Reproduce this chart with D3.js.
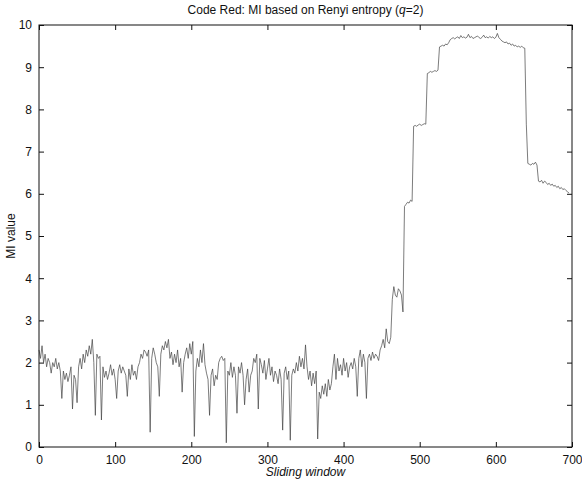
<!DOCTYPE html>
<html>
<head>
<meta charset="utf-8">
<script src="https://cdn.jsdelivr.net/npm/d3@7"></script>
<style>
    body { margin: 0; background: #fff; }
    text { font-family: "Liberation Sans", Arial, sans-serif; fill: #111; }
</style>
</head>
<body>
<div id="chart"></div>
<script>
// ===================== data =====================
const windowStep = 2;   // one value every 2 sliding windows
// each row = 10 values, row k starts at window 20*k
const miValues = [
    2.3, 2.1, 2.4, 2.0, 2.2, 1.9, 2.1, 2.0, 1.75, 2.0,      // 0
    1.9, 2.1, 1.85, 2.0, 1.8, 1.15, 1.8, 1.6, 1.75, 1.55,   // 20
    1.7, 1.9, 0.9, 1.7, 1.6, 1.05, 1.9, 2.1, 1.85, 2.2,     // 40
    2.0, 2.3, 2.15, 2.4, 2.2, 2.55, 2.0, 0.75, 2.2, 2.1,    // 60
    2.15, 0.64, 1.9, 1.65, 1.8, 1.6, 1.75, 1.95, 1.7, 1.85, // 80
    1.6, 1.15, 1.8, 1.95, 1.75, 1.9, 1.8, 1.7, 1.2, 1.85,   // 100
    1.6, 1.95, 1.7, 1.8, 1.6, 1.9, 2.0, 2.2, 2.1, 2.3,      // 120
    2.25, 2.15, 2.3, 0.35, 2.1, 2.35, 2.2, 2.0, 1.9, 1.2,   // 140
    2.2, 2.4, 2.3, 2.5, 2.35, 2.55, 2.1, 2.25, 1.95, 2.2,   // 160
    2.0, 2.3, 1.9, 2.1, 1.3, 2.0, 2.2, 2.35, 2.1, 2.45,     // 180
    2.2, 2.5, 0.25, 1.8, 2.1, 1.9, 2.3, 2.0, 2.45, 1.95,    // 200
    1.75, 1.6, 0.75, 1.7, 1.85, 1.45, 1.7, 1.6, 2.0, 2.1,   // 220
    2.15, 2.05, 2.1, 0.1, 1.8, 1.7, 2.0, 1.65, 1.9, 1.7,    // 240
    0.8, 1.9, 1.75, 2.0, 1.7, 1.0, 1.6, 1.85, 1.3, 1.7,     // 260
    1.8, 2.1, 2.0, 2.2, 0.9, 2.1, 1.95, 1.75, 2.05, 1.6,    // 280
    1.85, 2.1, 1.7, 1.9, 1.55, 1.8, 1.7, 1.5, 1.85, 1.6,    // 300
    0.4, 1.75, 1.9, 1.6, 1.8, 0.16, 1.7, 1.85, 1.75, 2.0,   // 320
    1.8, 2.15, 1.9, 2.1, 1.85, 2.42, 1.9, 1.6, 1.8, 1.45,   // 340
    1.75, 1.5, 1.8, 0.19, 1.3, 1.15, 1.45, 1.25, 1.5, 1.2,  // 360
    1.6, 1.35, 1.5, 1.9, 2.2, 1.6, 2.1, 1.8, 1.95, 1.7,     // 380
    2.1, 1.8, 2.0, 1.65, 1.9, 2.0, 1.85, 2.1, 1.9, 1.2,     // 400
    2.1, 2.3, 1.9, 2.2, 2.0, 1.15, 2.1, 2.2, 2.05, 2.25,    // 420
    2.1, 2.2, 2.15, 2.05, 2.3, 2.4, 2.55, 2.35, 2.8, 2.5,   // 440
    2.45, 2.6, 3.5, 3.8, 3.6, 3.55, 3.75, 3.7, 3.6, 3.2,    // 460
    5.7, 5.75, 5.8, 5.78, 5.85, 5.82, 7.6, 7.62, 7.6, 7.63, // 480
    7.65, 7.62, 7.64, 7.66, 7.65, 8.85, 8.87, 8.9, 8.88, 8.9,  // 500
    8.92, 8.9, 8.93, 9.48, 9.5, 9.52, 9.5, 9.55, 9.53, 9.58,   // 520
    9.65, 9.68, 9.7, 9.67, 9.7, 9.72, 9.68, 9.75, 9.7, 9.72,   // 540
    9.69, 9.71, 9.78, 9.7, 9.73, 9.68, 9.7, 9.72, 9.74, 9.7,   // 560
    9.68, 9.71, 9.76, 9.7, 9.72, 9.69, 9.73, 9.7, 9.72, 9.68,  // 580
    9.71, 9.8, 9.7, 9.66, 9.62, 9.6, 9.58, 9.6, 9.55, 9.57,    // 600
    9.52, 9.55, 9.5, 9.52, 9.48, 9.5, 9.47, 9.5, 9.46, 9.45,   // 620
    7.65, 6.72, 6.7, 6.68, 6.72, 6.7, 6.75, 6.68, 6.3, 6.28,   // 640
    6.32, 6.25, 6.3, 6.27, 6.22, 6.25, 6.2, 6.23, 6.18, 6.2,   // 660
    6.15, 6.18, 6.12, 6.15, 6.1, 6.12, 6.08, 6.05, 6.02        // 680
];
const xTicks = [0, 100, 200, 300, 400, 500, 600, 700];
const yTicks = [0, 1, 2, 3, 4, 5, 6, 7, 8, 9, 10];

// ===================== layout =====================
const width = 582, height = 481;
const margin = { top: 25, right: 10, bottom: 34, left: 39 };
const plotW = width - margin.left - margin.right;
const plotH = height - margin.top - margin.bottom;

const svg = d3.select('#chart')
    .append('svg')
    .attr('width', width)
    .attr('height', height);

const g = svg.append('g')
    .attr('transform', `translate(${margin.left},${margin.top})`);

const x = d3.scaleLinear().domain([0, 700]).range([0, plotW]);
const y = d3.scaleLinear().domain([0, 10]).range([plotH, 0]);

// the MI series
const line = d3.line()
    .x((d, i) => x(i * windowStep))
    .y(d => y(d));

g.append('path')
    .datum(miValues)
    .attr('d', line)
    .attr('fill', 'none')
    .attr('stroke', '#444')
    .attr('stroke-width', 0.7);

// matlab-style box with ticks pointing inward on all sides
const tickLen = 5;
const styleAxis = sel => {
    sel.select('.domain').remove();
    sel.selectAll('.tick line').attr('stroke', '#111');
    sel.selectAll('.tick text')
        .attr('font-size', '12px');
};

g.append('g')
    .attr('transform', `translate(0,${plotH})`)
    .call(d3.axisBottom(x).tickValues(xTicks).tickSize(-tickLen).tickPadding(8))
    .call(styleAxis);

g.append('g')
    .call(d3.axisTop(x).tickValues(xTicks).tickSize(-tickLen).tickFormat(''))
    .call(styleAxis);

g.append('g')
    .call(d3.axisLeft(y).tickValues(yTicks).tickSize(-tickLen).tickPadding(7))
    .call(styleAxis);

g.append('g')
    .attr('transform', `translate(${plotW},0)`)
    .call(d3.axisRight(y).tickValues(yTicks).tickSize(-tickLen).tickFormat(''))
    .call(styleAxis);

g.append('rect')
    .attr('width', plotW)
    .attr('height', plotH)
    .attr('fill', 'none')
    .attr('stroke', '#111')
    .attr('stroke-width', 1);

// title + axis labels
const title = svg.append('text')
    .attr('x', margin.left + plotW / 2)
    .attr('y', 14)
    .attr('text-anchor', 'middle')
    .attr('font-size', '12px');
title.append('tspan').text('Code Red: MI based on Renyi entropy (');
title.append('tspan').attr('font-style', 'italic').text('q');
title.append('tspan').text('=2)');

svg.append('text')
    .attr('x', margin.left + plotW / 2)
    .attr('y', 476)
    .attr('text-anchor', 'middle')
    .attr('font-size', '12px')
    .attr('font-style', 'italic')
    .text('Sliding window');

svg.append('text')
    .attr('transform', `translate(15,${margin.top + plotH / 2}) rotate(-90)`)
    .attr('text-anchor', 'middle')
    .attr('font-size', '12px')
    .text('MI value');
</script>
</body>
</html>
